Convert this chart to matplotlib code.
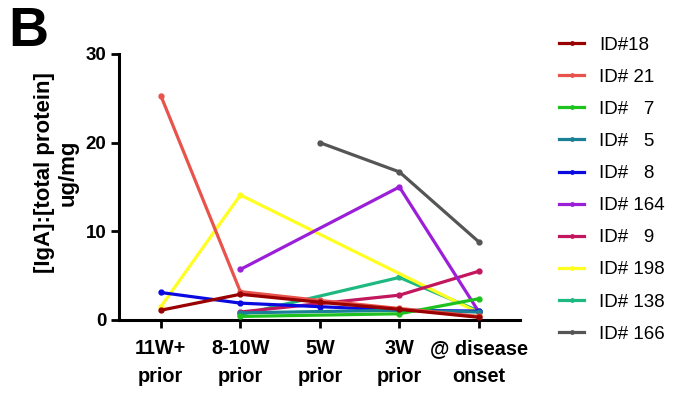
import matplotlib
matplotlib.use('Agg')
import matplotlib.pyplot as plt
import numpy as np

plt.rcParams['font.family'] = ['Liberation Sans', 'DejaVu Sans']

# time points (x categories)
timepoints = ['11W+\nprior', '8-10W\nprior', '5W\nprior', '3W\nprior', '@ disease\nonset']

# legend labels
labels = ['ID#18', 'ID# 21', 'ID#   7', 'ID#   5', 'ID#   8',
          'ID# 164', 'ID#   9', 'ID# 198', 'ID# 138', 'ID# 166']

# values per subject, nan = not measured
nan = np.nan
id18 = [1.1, 2.9, 2.0, 1.2, 0.3]
id21 = [25.3, 3.2, 2.2, 1.3, 0.4]
id7 = [nan, 0.4, nan, 0.7, 2.4]
id5 = [nan, 0.8, nan, 1.1, 0.9]
id8 = [3.1, 1.9, 1.5, 1.1, 1.0]
id164 = [nan, 5.7, nan, 15.0, 0.9]
id9 = [nan, 0.9, nan, 2.8, 5.5]
id198 = [1.5, 14.1, nan, nan, 0.8]
id138 = [nan, 0.6, nan, 4.8, 1.0]
id166 = [nan, nan, 20.0, 16.7, 8.8]

series = [id18, id21, id7, id5, id8, id164, id9, id198, id138, id166]
colors = ['#990000', '#e8534c', '#1ec21e', '#1b7f96', '#0a0ae0',
          '#9b1fd9', '#c2165e', '#ffff22', '#1eb981', '#555555']

fig = plt.figure(figsize=(6.9, 3.97), dpi=100)
ax = fig.add_axes([0.172, 0.194, 0.582, 0.670])

x = np.arange(len(timepoints))
n = len(series)
for k, (vals, col, lab) in enumerate(zip(series, colors, labels)):
    v = np.array(vals, dtype=float)
    m = ~np.isnan(v)
    ax.plot(x[m], v[m], color=col, lw=2.3, marker='o', markersize=3.5,
            label=lab, zorder=3 + (n - k))

ax.set_xlim(-0.53, 4.52)
ax.set_ylim(0, 30)
ax.set_yticks([0, 10, 20, 30])
ax.set_xticks(x)
ax.set_xticklabels(timepoints, fontsize=14.3, fontweight='bold',
                   linespacing=1.55)
ax.tick_params(axis='both', width=2, length=6)
ax.tick_params(axis='y', labelsize=13.5, pad=3)
for t in ax.get_yticklabels():
    t.set_fontweight('bold')
ax.tick_params(axis='x', pad=8)

for s in ['top', 'right']:
    ax.spines[s].set_visible(False)
for s in ['left', 'bottom']:
    ax.spines[s].set_linewidth(2.2)

ax.set_ylabel('[IgA]:[total protein]\nug/mg', fontsize=16, fontweight='bold',
              linespacing=1.15)
ax.yaxis.set_label_coords(-0.10, 0.553)

leg = ax.legend(loc='upper left', bbox_to_anchor=(1.079, 1.094), frameon=False,
                fontsize=13.5, handlelength=1.33, handletextpad=0.8,
                labelspacing=0.8, borderaxespad=0, markerscale=0.7)

fig.text(0.012, 0.985, 'B', fontsize=40, fontweight='bold', va='top', ha='left')

fig.savefig('out.png', dpi=100)
